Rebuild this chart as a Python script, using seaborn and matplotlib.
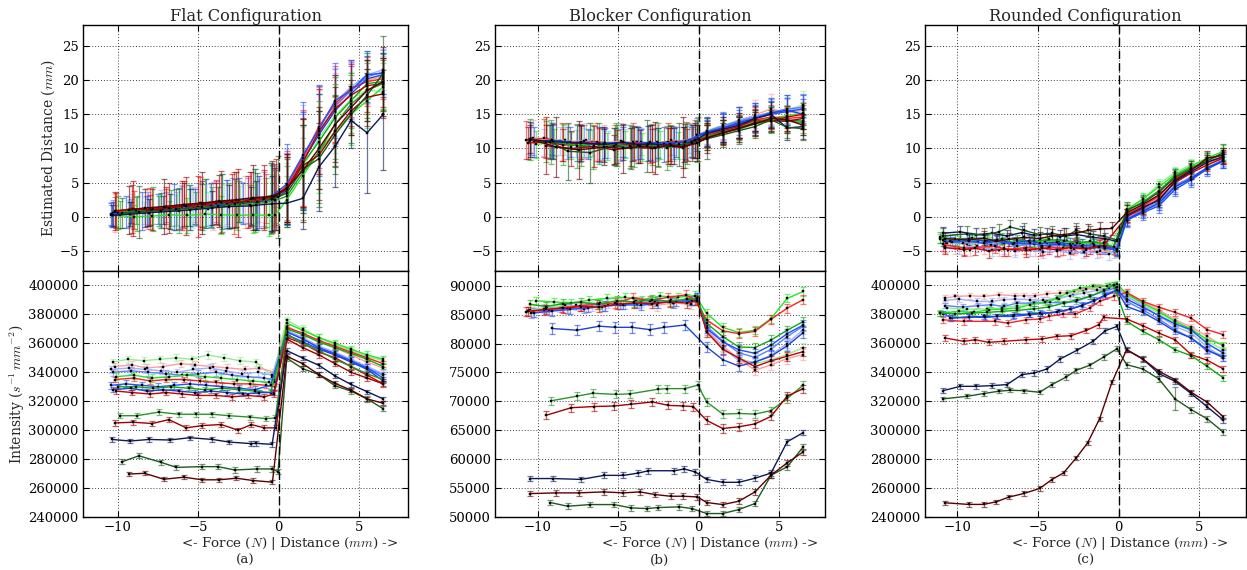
import numpy as np
import matplotlib
matplotlib.use("Agg")
import matplotlib.pyplot as plt
from matplotlib.ticker import MultipleLocator, ScalarFormatter
import seaborn as sns

# ---------------- data ----------------
COLORS = ['#90f090', '#ff9d9d', '#9fb0ff', '#5a82ff', '#22e622', '#ff2020', '#1f4fff',
          '#10a810', '#1a44d8', '#cc0000', '#2a962a', '#a00000', '#0b1a5c', '#1d5a1d', '#5e0000']
X_DIST = [0.5, 1.5, 2.5, 3.5, 4.5, 5.5, 6.5]
TITLES = ["Flat Configuration", "Blocker Configuration", "Rounded Configuration"]
PANEL_TAGS = ["(a)", "(b)", "(c)"]
XLABEL = "<- Force ($N$) | Distance ($mm$) ->"

# ---- (a) Flat ----
FLAT_COLOR_IDX = list(range(15))
FLAT_FX = [
    [-10.3, -9.4, -8.4, -7.4, -6.4, -5.4, -4.4, -3.4, -2.4, -1.4, -0.4],
    [-10.2, -9.1, -8.2, -7.2, -6.1, -5.2, -4.1, -3.2, -2.1, -1.2, -0.3],
    [-10.4, -9.3, -8.3, -7.3, -6.3, -5.3, -4.3, -3.3, -2.3, -1.3, -0.4],
    [-10.3, -9.2, -8.1, -7.0, -6.0, -5.0, -3.9, -2.9, -1.9, -0.9, -0.2],
    [-10.1, -9.0, -7.9, -6.8, -5.7, -4.6, -3.6, -2.6, -1.6, -0.6, -0.2],
    [-10.2, -9.0, -8.0, -7.0, -5.9, -4.9, -3.9, -2.8, -1.8, -0.8, -0.2],
    [-10.4, -9.5, -8.5, -7.5, -6.5, -5.5, -4.5, -3.5, -2.5, -1.5, -0.5],
    [-10.0, -8.9, -7.8, -6.7, -5.6, -4.6, -3.5, -2.5, -1.5, -0.5],
    [-10.3, -9.2, -8.2, -7.2, -6.2, -5.2, -4.2, -3.2, -2.2, -1.2, -0.3],
    [-10.1, -9.1, -8.0, -7.0, -6.0, -5.0, -3.9, -2.9, -1.9, -0.9, -0.3],
    [-9.85, -8.82, -7.45, -6.2, -5.17, -4.13, -3.09, -1.76, -0.81, -0.21],
    [-10.2, -9.07, -7.86, -6.83, -5.75, -4.75, -3.57, -2.53, -1.7, -0.91, -0.15],
    [-10.37, -9.23, -8.07, -6.78, -5.54, -4.13, -3.09, -1.7, -1.39, -0.41],
    [-9.73, -8.69, -7.3, -6.37, -4.75, -3.78, -2.74, -1.35, -0.39, -0.04],
    [-9.3, -8.34, -7.14, -5.9, -4.75, -3.71, -2.63, -1.6, -0.39],
]
FLAT_DIST = [
    [0.2, 0.5, 0.6, 0.9, 1.0, 1.3, 1.2, 1.6, 1.9, 2.1, 2.5, 3.4, 7.2, 11.5, 14.8, 17.2, 18.6, 18.2],
    [0.6, 0.8, 1.2, 1.0, 1.5, 1.8, 1.6, 2.0, 2.2, 2.4, 2.8, 4.0, 8.5, 12.5, 16.0, 18.5, 20.0, 20.5],
    [0.3, 0.7, 0.9, 1.1, 1.2, 1.4, 1.8, 2.0, 2.1, 2.3, 2.6, 4.4, 8.8, 13.0, 16.8, 19.0, 20.8, 21.5],
    [0.5, 0.8, 1.1, 1.4, 1.5, 1.8, 2.2, 2.1, 2.4, 2.6, 3.0, 4.2, 8.0, 12.2, 16.2, 18.5, 20.5, 21.2],
    [0.2, 0.0, 0.1, 0.3, 0.2, 0.4, 0.3, 0.2, 0.3, 0.2, 0.3, 2.5, 6.0, 9.5, 12.5, 15.0, 17.0, 19.0],
    [0.7, 1.0, 1.2, 1.5, 1.8, 2.0, 2.2, 2.0, 2.5, 2.7, 3.0, 4.6, 8.6, 13.2, 16.5, 18.8, 19.8, 20.2],
    [0.4, 0.7, 0.9, 1.2, 1.4, 1.7, 1.9, 2.2, 2.5, 2.6, 2.9, 4.8, 9.0, 12.8, 17.0, 18.5, 20.8, 21.0],
    [0.6, 0.9, 1.1, 1.3, 1.6, 1.9, 2.0, 2.3, 2.4, 2.7, 4.0, 7.8, 11.0, 14.5, 17.0, 19.5, 19.8],
    [0.3, 0.6, 0.8, 1.0, 1.2, 1.5, 1.7, 1.9, 2.0, 2.2, 2.6, 3.8, 8.2, 12.0, 15.5, 18.0, 20.2, 20.8],
    [0.9, 1.1, 1.0, 1.4, 1.6, 1.5, 2.0, 2.3, 2.2, 2.6, 2.9, 4.2, 8.0, 12.5, 15.8, 17.8, 19.2, 19.5],
    [0.3, 0.5, 0.8, 0.9, 1.2, 1.4, 1.6, 1.8, 2.1, 2.4, 3.0, 6.5, 9.5, 13.5, 16.5, 18.5, 19.5],
    [0.8, 1.2, 1.0, 1.3, 1.6, 1.9, 2.2, 2.0, 2.6, 2.8, 3.2, 4.0, 7.5, 9.0, 12.5, 15.5, 17.5, 18.0],
    [0.2, 0.4, 0.6, 0.8, 1.0, 1.3, 1.5, 1.6, 1.7, 1.9, 2.0, 2.7, 7.3, 10.3, 14.1, 12.3, 15.0],
    [0.5, 0.7, 0.9, 1.1, 1.4, 1.6, 1.9, 2.2, 2.6, 2.9, 3.5, 7.0, 8.5, 12.0, 15.0, 17.8, 21.0],
    [1.0, 1.3, 1.5, 1.8, 2.0, 2.3, 2.5, 2.8, 3.0, 4.2, 6.8, 10.0, 13.5, 16.0, 18.5, 19.8],
]
FLAT_DIST_ERR = [
    [1.5, 2.0, 1.6, 2.4, 2.2, 3.0, 2.5, 3.2, 2.6, 3.0, 3.8, 4.5, 6.0, 6.5, 5.5, 4.0, 4.2, 3.5],
    [2.8, 2.5, 3.0, 2.0, 3.2, 2.5, 3.5, 3.0, 3.8, 3.2, 4.0, 5.0, 7.0, 6.0, 5.0, 4.0, 3.5, 3.0],
    [1.8, 2.2, 2.0, 2.8, 2.5, 2.8, 3.0, 3.4, 3.0, 3.6, 3.2, 5.5, 7.5, 6.2, 5.0, 3.8, 3.2, 3.0],
    [2.0, 1.8, 2.5, 2.2, 3.0, 3.2, 3.0, 3.6, 3.3, 4.0, 4.5, 5.2, 7.0, 6.8, 5.5, 4.2, 3.8, 3.2],
    [1.5, 1.8, 1.2, 2.0, 2.5, 1.8, 2.8, 2.2, 2.6, 3.0, 1.2, 3.5, 5.5, 6.0, 5.0, 4.5, 4.0, 3.5],
    [2.2, 2.8, 3.0, 2.5, 3.5, 3.8, 3.2, 4.5, 4.0, 3.6, 4.2, 5.0, 7.0, 6.0, 5.5, 4.2, 3.6, 3.0],
    [1.6, 2.4, 2.8, 2.2, 3.4, 3.0, 3.6, 4.0, 3.2, 4.4, 5.0, 5.8, 7.8, 6.5, 5.5, 4.5, 3.5, 3.0],
    [2.4, 2.0, 3.2, 2.6, 3.0, 3.6, 4.2, 3.0, 4.6, 5.2, 4.8, 6.5, 7.0, 6.0, 4.0, 4.5, 4.0],
    [1.8, 1.5, 2.2, 2.0, 3.0, 2.6, 3.2, 3.5, 3.0, 3.8, 4.6, 5.0, 7.2, 6.0, 5.2, 4.0, 3.4, 3.2],
    [2.6, 3.5, 2.2, 3.0, 3.6, 4.5, 3.0, 4.0, 3.8, 4.2, 4.8, 5.0, 6.5, 6.2, 5.0, 4.5, 3.8, 3.5],
    [2.0, 2.6, 2.2, 3.2, 2.4, 3.0, 3.4, 2.8, 3.6, 4.4, 4.5, 7.0, 7.5, 6.0, 4.2, 4.0, 3.8],
    [2.8, 4.0, 3.0, 3.6, 4.2, 3.4, 4.5, 5.0, 4.0, 4.8, 5.2, 4.8, 6.0, 6.5, 5.2, 3.6, 4.2, 3.5],
    [1.5, 1.8, 2.0, 2.6, 3.0, 2.5, 3.2, 2.8, 3.6, 4.0, 3.0, 4.5, 6.5, 6.0, 4.0, 8.8, 8.2],
    [2.2, 3.8, 2.6, 3.0, 3.4, 2.8, 3.6, 4.2, 5.0, 6.0, 5.0, 6.5, 7.0, 5.8, 4.2, 3.8, 5.5],
    [3.5, 2.8, 4.0, 3.2, 4.5, 3.8, 4.0, 4.8, 5.2, 5.0, 7.5, 6.0, 5.5, 4.0, 4.5, 5.0],
]
# intensity in thousands of s^-1 mm^-2
FLAT_INT = [
    [347, 349, 348, 349, 350, 349, 352, 350, 348, 347, 337, 376, 370, 364, 359, 355, 351, 348],
    [344, 345, 343, 344, 346, 345, 344, 343, 342, 343, 340, 372, 366, 361, 357, 352, 347, 343],
    [342, 343, 342, 341, 340, 342, 343, 341, 339, 340, 338, 369, 364, 358, 354, 349, 344, 339],
    [340, 341, 340, 339, 338, 339, 340, 338, 337, 336, 335, 368, 363, 357, 352, 348, 343, 338],
    [337, 338, 336, 337, 338, 337, 336, 335, 334, 333, 333, 374, 369, 364, 360, 356, 352, 349],
    [335, 336, 334, 335, 335, 334, 333, 332, 332, 331, 330, 371, 367, 362, 358, 354, 350, 346],
    [331, 332, 331, 330, 331, 332, 331, 330, 329, 328, 331, 368, 363, 357, 353, 348, 343, 336],
    [330, 330, 329, 330, 329, 328, 329, 328, 327, 326, 370, 366, 361, 357, 353, 349, 344],
    [328, 329, 327, 328, 327, 326, 327, 326, 325, 326, 326, 366, 361, 356, 352, 347, 342, 334],
    [327, 326, 325, 326, 325, 324, 324, 323, 324, 323, 325, 364, 360, 354, 350, 344, 338, 332],
    [310, 310, 312.5, 311, 311, 311, 310, 309, 308, 308.4, 366, 360, 355, 349, 344, 339, 335],
    [305, 305.5, 304.6, 307.3, 301.6, 303.2, 303.9, 300, 303.9, 301.6, 301.6,
     363, 357, 352, 346, 340, 336, 332],
    [293.6, 292.5, 293.6, 293.2, 294.8, 293.6, 291.8, 290.7, 290.9, 290.2,
     355, 349.8, 344.8, 337.5, 331.6, 326.6, 321.6],
    [278.2, 282.3, 277.7, 274.3, 274.8, 274.8, 272.5, 273.2, 273.2, 271.3,
     349.8, 342.5, 338.4, 330.7, 327, 321.6, 314.8],
    [269.7, 270.2, 266.1, 267.5, 265.7, 265.7, 266.8, 265.2, 264.1,
     351.1, 345.9, 338.4, 332.3, 327.7, 321.6, 318.6],
]
FLAT_INT_ERR = [2.5, 2.5, 2.5, 2.5, 2.5, 2.0, 2.5, 1.5, 1.5, 2.0, 1.8, 1.8, 1.5, 1.8, 1.5]

# ---- (b) Blocker ----
BLOCK_COLOR_IDX = list(range(15))
BLOCK_FX = [
    [-10.5, -9.4, -8.3, -7.2, -6.1, -5.0, -3.9, -2.8, -1.7, -0.6, -0.1],
    [-10.3, -9.2, -8.1, -7.0, -5.9, -4.8, -3.7, -2.6, -1.5, -0.5, -0.1],
    [-10.6, -9.6, -8.6, -7.6, -6.6, -5.6, -4.6, -3.6, -2.6, -1.6, -0.6, -0.1],
    [-10.4, -9.3, -8.2, -7.1, -6.0, -4.9, -3.8, -2.7, -1.6, -0.5, -0.1],
    [-10.1, -9.0, -7.9, -6.8, -5.7, -4.6, -3.5, -2.4, -1.3, -0.2],
    [-10.7, -9.6, -8.5, -7.4, -6.3, -5.2, -4.1, -3.0, -1.9, -0.8, -0.2],
    [-10.2, -9.1, -8.0, -6.9, -5.8, -4.7, -3.6, -2.5, -1.4, -0.4, -0.1],
    [-10.5, -9.5, -8.4, -7.3, -6.2, -5.1, -4.0, -2.9, -1.8, -0.7, -0.1],
    [-9.11, -7.56, -6.16, -5.19, -4.15, -3.02, -2.15, -0.85],
    [-10.6, -9.5, -8.4, -7.3, -6.2, -5.1, -4.0, -2.9, -1.8, -0.7, -0.1],
    [-9.15, -7.56, -6.57, -5.12, -4.26, -2.5, -1.98, -0.85, -0.05],
    [-9.46, -7.91, -6.53, -5.25, -4.19, -2.87, -1.88, -0.99, -0.33],
    [-10.45, -9.05, -7.31, -5.87, -4.67, -3.74, -3.12, -1.51, -0.89, -0.21],
    [-9.21, -8.14, -6.74, -5.25, -4.19, -3.22, -2.5, -1.2, -0.41],
    [-10.45, -8.84, -7.46, -5.87, -4.67, -3.64, -2.71, -1.74, -0.99, -0.08],
]
BLOCK_DIST = [
    [11.0, 11.4, 11.2, 10.8, 10.6, 10.9, 11.0, 10.7, 11.2, 11.0, 11.6, 12.6, 13.4, 14.0, 14.6, 15.4, 15.6, 16.4],
    [11.6, 11.3, 11.0, 11.2, 10.8, 11.1, 10.6, 10.9, 10.7, 11.2, 11.8, 12.2, 13.0, 13.8, 14.9, 15.8, 15.2, 15.6],
    [11.2, 10.9, 11.1, 10.7, 10.9, 10.6, 10.8, 11.0, 10.7, 11.0, 11.3, 11.9, 12.4, 13.2, 14.2, 14.8, 15.2, 15.4, 16.2],
    [11.4, 11.0, 10.8, 11.1, 10.7, 10.5, 10.9, 10.6, 10.8, 11.2, 12.0, 12.5, 13.3, 14.0, 14.6, 15.3, 15.8, 16.0],
    [10.6, 10.9, 10.4, 10.7, 10.3, 10.6, 10.2, 10.5, 10.4, 10.8, 11.8, 12.6, 13.2, 14.0, 14.4, 14.8, 15.2],
    [11.2, 11.5, 11.0, 10.8, 11.0, 10.6, 10.9, 10.7, 11.0, 11.1, 11.4, 12.0, 12.8, 13.4, 14.2, 14.6, 14.4, 14.6],
    [11.0, 11.2, 10.9, 10.7, 10.8, 10.9, 10.6, 10.8, 10.9, 11.0, 11.8, 12.2, 13.0, 13.6, 14.4, 15.0, 15.4, 15.8],
    [11.3, 11.0, 10.6, 10.4, 10.7, 10.5, 10.3, 10.6, 10.4, 10.7, 11.0, 11.6, 12.4, 12.8, 13.6, 14.0, 14.0, 13.8],
    [11.2, 10.8, 10.6, 10.4, 10.7, 10.9, 10.6, 11.0, 12.4, 13.0, 13.8, 14.4, 15.2, 15.6, 15.0],
    [10.8, 11.0, 10.5, 10.9, 10.6, 10.3, 10.7, 10.4, 10.6, 10.5, 11.0, 11.8, 12.6, 13.2, 14.2, 14.0, 14.6, 15.0],
    [11.0, 10.4, 10.2, 10.6, 10.3, 10.5, 10.1, 10.4, 11.4, 11.8, 12.4, 13.0, 13.8, 14.4, 14.2, 14.0],
    [10.4, 10.0, 10.3, 9.8, 10.2, 10.0, 10.4, 10.1, 11.0, 11.6, 12.2, 12.9, 13.8, 14.1, 14.0, 14.4],
    [11.3, 11.0, 10.8, 10.6, 10.9, 10.5, 10.7, 10.4, 10.6, 11.2, 12.2, 12.8, 13.4, 14.4, 15.0, 13.0, 13.2],
    [11.0, 9.6, 9.4, 10.4, 10.0, 10.4, 10.2, 10.6, 10.8, 11.4, 12.0, 12.6, 13.2, 14.2, 13.1, 12.9],
    [11.4, 10.2, 9.8, 10.2, 10.0, 10.3, 10.1, 10.5, 10.2, 10.8, 11.5, 12.3, 13.0, 13.6, 14.4, 14.2, 13.4],
]
# (force-side error, distance-side error) or one value per point
BLOCK_DIST_ERR = [
    (2.2, 2.0), (2.6, 2.2), (2.0, 1.8), (2.4, 2.0), (2.0, 1.6), (2.8, 1.8), (2.2, 2.0),
    (3.0, 1.8), (2.6, 2.2), (2.4, 1.6), (3.2, 1.8),
    [4.2, 2.5, 3.0, 2.2, 2.8, 3.4, 2.6, 3.0, 2.4, 1.8, 1.6, 2.0, 1.8, 1.6, 1.8, 1.5],
    (2.6, 1.8),
    [2.5, 4.2, 4.4, 2.6, 3.0, 3.8, 2.8, 3.2, 2.6, 3.0, 1.8, 2.0, 1.6, 1.8, 1.6, 1.7],
    [2.0, 4.4, 4.2, 2.6, 3.6, 2.4, 3.8, 2.8, 4.4, 2.6, 2.2, 1.8, 1.6, 1.8, 1.4, 1.6, 1.5],
]
BLOCK_INT = [
    [85.8, 86.3, 86.6, 86.4, 87.0, 86.8, 87.3, 87.0, 87.6, 87.3, 87.8, 82.0, 79.0, 77.5, 76.5, 77.2, 78.1, 79.3],
    [85.4, 85.8, 86.0, 86.3, 86.5, 86.9, 87.1, 86.6, 87.0, 86.8, 87.6, 82.4, 79.6, 77.3, 75.4, 76.3, 77.4, 78.1],
    [85.6, 86.0, 86.2, 86.6, 86.4, 86.9, 86.7, 87.2, 87.4, 87.1, 87.5, 87.9, 82.2, 79.3, 77.0, 76.8, 78.0, 80.0, 82.4],
    [85.2, 85.7, 86.1, 86.0, 86.4, 86.7, 86.9, 87.3, 87.0, 87.5, 88.0, 83.0, 80.4, 78.4, 77.6, 79.0, 81.2, 83.0],
    [87.4, 87.2, 87.0, 87.5, 87.8, 88.0, 87.6, 88.2, 88.0, 88.3, 85.2, 82.8, 81.9, 82.3, 84.3, 87.8, 89.0],
    [85.5, 85.8, 86.2, 86.5, 86.8, 87.0, 87.9, 87.4, 88.0, 88.4, 87.5, 84.1, 82.2, 81.7, 82.1, 84.2, 86.1, 87.6],
    [85.3, 85.6, 85.9, 86.2, 86.5, 86.7, 86.6, 87.0, 87.3, 87.4, 87.9, 82.6, 80.3, 78.9, 78.3, 79.7, 81.7, 83.2],
    [86.8, 86.4, 86.9, 87.1, 86.8, 87.4, 87.2, 87.6, 87.3, 87.7, 87.6, 83.5, 81.2, 79.4, 79.3, 80.6, 82.3, 83.8],
    [82.6, 82.3, 83.0, 82.8, 82.8, 82.4, 82.8, 83.2, 79.4, 77.2, 76.1, 76.8, 77.8, 79.6, 81.9],
    [85.6, 85.9, 86.1, 86.4, 86.3, 86.8, 87.0, 86.9, 87.2, 87.0, 87.4, 82.0, 79.0, 77.5, 76.0, 77.0, 77.8, 78.6],
    [70.1, 70.9, 71.4, 71.2, 71.3, 72.1, 72.2, 72.2, 72.8, 69.9, 67.8, 67.9, 67.8, 68.4, 70.5, 72.8],
    [67.6, 68.9, 69.1, 69.2, 69.5, 69.9, 69.3, 69.2, 69.1, 66.7, 65.3, 65.6, 66.1, 67.4, 70.9, 72.2],
    [56.65, 56.65, 56.5, 57.2, 57.2, 57.6, 58.0, 58.0, 58.3, 57.8, 56.5, 56.0, 56.0, 56.7, 57.6, 63.0, 64.6],
    [52.5, 51.86, 52.15, 52.15, 51.57, 51.46, 51.63, 51.75, 51.46, 50.6, 50.6, 51.29, 52.33, 57.23, 58.67, 62.13],
    [54.05, 54.17, 54.17, 54.34, 54.17, 54.34, 53.88, 53.59, 53.59, 53.48, 52.5, 52.15, 52.73, 54.34, 57.23, 59.36, 61.27],
]
BLOCK_INT_ERR = [0.8, 0.9, 0.8, 0.8, 0.7, 0.8, 0.8, 0.8, 0.9, 0.8, 0.7, 0.7, 0.5, 0.5, 0.5]

# ---- (c) Rounded ----
ROUND_COLOR_IDX = [0, 1, 2, 3, 4, 5, 6, 7, 8, 9, 12, 13, 14]
ROUND_FX = [
    [-10.64, -9.4, -8.16, -7.23, -6.3, -5.27, -4.44, -3.72, -2.83, -2.21, -1.34, -0.52],
    [-10.74, -10.12, -9.19, -8.37, -7.44, -6.4, -5.85, -5.17, -4.44, -3.66, -2.79, -2.0, -1.18, -0.31],
    [-10.74, -9.92, -8.78, -7.85, -7.13, -6.4, -5.47, -4.69, -3.82, -3.0, -2.17, -1.34, -0.62, -0.1],
    [-10.74, -9.65, -8.74, -7.91, -7.13, -6.3, -5.27, -4.28, -3.37, -2.62, -1.8, -0.93, -0.21],
    [-11.05, -9.92, -8.99, -8.06, -7.23, -6.3, -5.48, -4.55, -3.82, -3.2, -2.38, -1.59, -0.72, -0.1],
    [-10.89, -9.61, -7.64, -6.88, -5.72, -4.86, -4.34, -3.45, -2.69, -1.8, -1.18, -0.31],
    [-10.89, -10.33, -9.3, -8.37, -7.54, -6.55, -5.48, -4.75, -3.72, -2.95, -2.21, -1.55, -0.83, -0.1],
    [-11.05, -10.12, -9.09, -8.16, -7.23, -6.3, -5.27, -4.34, -3.41, -2.58, -1.76, -0.93, -0.31],
    [-10.43, -9.3, -8.26, -7.54, -6.51, -5.58, -4.86, -3.82, -3.0, -2.27, -1.55, -0.83, -0.1],
    [-10.74, -9.61, -8.88, -8.06, -7.13, -5.72, -4.75, -3.82, -2.95, -2.0, -1.24, -0.93],
    [-10.89, -9.81, -8.82, -7.85, -6.92, -5.99, -5.23, -4.44, -3.62, -2.58, -1.59, -0.83, -0.1],
    [-10.89, -9.4, -8.37, -7.44, -6.71, -5.85, -4.9, -4.13, -3.24, -2.62, -1.8, -0.93, -0.1],
    [-10.74, -9.3, -8.37, -7.58, -6.82, -5.85, -4.9, -4.13, -3.41, -2.62, -1.92, -1.18, -0.41],
]
ROUND_DIST = [
    [-3.8, -4.0, -3.6, -3.9, -3.7, -3.5, -3.8, -3.6, -3.9, -4.1, -4.3, -4.6, 1.2, 2.5, 4.8, 6.5, 7.6, 8.4, 9.2],
    [-4.4, -4.6, -4.8, -4.5, -4.9, -4.7, -4.5, -4.8, -4.6, -4.9, -4.7, -4.8, -5.0, -5.1, 0.2, 1.4, 2.8, 5.2, 6.6, 7.8, 8.6],
    [-4.2, -4.5, -4.3, -4.8, -4.6, -5.0, -4.8, -5.2, -5.0, -5.3, -5.1, -5.2, -5.4, -5.0, -0.6, 0.8, 1.8, 4.2, 5.6, 7.0, 8.1],
    [-3.6, -3.9, -3.7, -4.1, -3.8, -4.2, -4.0, -4.3, -4.1, -4.4, -4.6, -4.5, -4.8, -0.3, 1.0, 2.2, 4.6, 5.8, 7.2, 8.4],
    [-3.2, -3.5, -3.3, -3.6, -3.4, -3.8, -3.5, -3.7, -3.4, -3.6, -3.9, -3.8, -4.2, -5.0, 1.0, 2.6, 4.4, 6.2, 7.4, 8.6, 9.6],
    [-4.0, -4.6, -4.3, -4.8, -4.5, -4.7, -4.4, -4.6, -4.3, -4.5, -4.2, -4.4, 0.4, 1.6, 3.0, 5.6, 7.0, 8.0, 8.8],
    [-3.4, -3.7, -3.5, -3.9, -3.6, -4.0, -3.8, -4.2, -4.0, -4.3, -4.5, -4.4, -4.6, -4.9, -0.5, 0.6, 1.6, 4.0, 5.4, 7.0, 8.2],
    [-3.0, -3.3, -3.1, -3.5, -3.2, -3.4, -3.6, -3.3, -3.5, -3.8, -3.6, -3.9, -4.4, 0.8, 2.2, 3.8, 6.0, 7.2, 8.2, 9.2],
    [-3.5, -3.2, -3.6, -3.4, -3.8, -3.5, -3.9, -3.7, -4.0, -4.2, -4.1, -4.4, -4.7, -0.4, 0.8, 2.0, 4.4, 5.6, 7.2, 8.2],
    [-4.5, -4.8, -4.6, -5.0, -4.7, -4.9, -4.6, -4.8, -4.5, -4.7, -4.4, -4.2, 0.0, 1.2, 2.6, 5.0, 6.4, 7.6, 8.6],
    [-2.4, -2.2, -2.6, -2.4, -2.8, -2.3, -2.7, -2.5, -2.9, -2.6, -3.0, -3.2, -3.6, 0.2, 1.4, 2.4, 5.2, 6.6, 8.0, 8.8],
    [-2.8, -2.5, -2.7, -2.2, -1.5, -2.0, -2.6, -2.4, -2.8, -2.0, -2.5, -2.8, -3.4, 1.0, 2.0, 3.6, 5.8, 7.0, 8.2, 9.4],
    [-3.2, -3.4, -3.1, -3.6, -3.3, -3.0, -3.2, -2.8, -2.6, -2.4, -2.0, -1.8, -1.7, 0.6, 1.8, 3.2, 5.4, 6.8, 8.6, 9.0],
]
ROUND_DIST_ERR = [(0.8, 0.8), (0.9, 0.9), (0.9, 0.8), (0.8, 0.9), (0.7, 0.9), (1.0, 0.8), (0.8, 1.0),
                  (0.8, 0.9), (0.9, 1.0), (1.0, 0.9), (0.9, 1.0), (1.1, 1.2), (1.0, 1.1)]
ROUND_INT = [
    [384.4, 383.7, 383.7, 384.4, 386.0, 387.8, 389.0, 390.6, 393.6, 396.6, 398.9, 400.5,
     393.6, 386.7, 380.9, 374.0, 368.3, 361.4, 355.6],
    [391.3, 392.4, 392.9, 392.4, 393.6, 392.9, 392.9, 392.9, 394.3, 394.7, 395.9, 397.5, 398.9, 399.8,
     394.7, 388.3, 383.2, 376.3, 371.3, 364.8, 357.9],
    [389.7, 390.6, 389.0, 389.0, 390.1, 390.6, 390.1, 389.7, 391.3, 392.9, 394.7, 396.6, 398.2, 398.9,
     392.4, 386.0, 379.1, 371.7, 367.1, 357.5, 349.9],
    [386.0, 385.1, 386.0, 386.7, 385.5, 387.8, 387.8, 388.3, 387.8, 389.0, 392.4, 395.9, 398.2,
     389.0, 383.2, 376.8, 369.4, 363.7, 354.5, 351.5],
    [380.9, 382.1, 381.4, 383.2, 383.7, 384.4, 386.7, 388.3, 391.3, 394.7, 398.2, 399.3, 399.8, 401.1,
     394.2, 387.8, 382.1, 375.2, 369.9, 362.5, 359.1],
    [376.3, 375.2, 375.2, 374.0, 376.3, 376.8, 378.6, 380.2, 380.2, 384.4, 389.0, 392.4,
     395.2, 389.0, 385.0, 381.4, 377.5, 369.4, 366.0],
    [380.5, 377.5, 378.2, 378.6, 378.6, 378.6, 379.8, 380.5, 382.1, 383.7, 386.7, 389.0, 393.6, 397.0,
     390.6, 385.0, 379.1, 373.5, 369.4, 359.8, 353.3],
    [380.9, 380.5, 380.9, 381.4, 382.1, 382.8, 383.7, 385.1, 387.8, 390.1, 392.4, 396.6, 400.5,
     375.2, 368.3, 362.5, 355.6, 351.5, 344.1, 336.1],
    [377.5, 378.2, 377.9, 378.6, 379.8, 380.2, 380.9, 381.4, 383.7, 386.0, 389.7, 392.9, 396.6,
     385.5, 381.4, 375.2, 368.3, 363.7, 355.6, 349.9],
    [363.7, 361.4, 362.5, 360.7, 361.4, 362.5, 363.0, 364.8, 365.3, 368.9, 372.9, 377.9,
     376.8, 372.2, 367.1, 362.5, 352.2, 348.3, 342.3],
    [327.3, 330.3, 330.3, 330.8, 331.5, 338.4, 339.5, 342.3, 349.2, 355.2, 361.4, 368.7, 371.7,
     355.6, 349.2, 339.1, 333.8, 325.3, 316.1, 306.9],
    [321.6, 323.4, 325.3, 326.9, 327.6, 327.3, 326.2, 331.5, 336.8, 341.4, 344.8, 350.5, 356.3,
     345.3, 342.3, 335.4, 321.6, 314.2, 307.8, 298.6],
    [249.8, 248.7, 248.7, 250.5, 253.7, 256.3, 259.7, 265.9, 270.5, 280.9, 291.2, 307.8, 333.1,
     355.6, 349.2, 340.7, 334.9, 326.2, 319.3, 309.2],
]
ROUND_INT_ERR = [1.8, 2.0, 2.0, 1.8, 2.0, 2.2, 1.8, 1.8, 2.0, 2.0, 1.8,
                 [1.5, 1.5, 1.5, 1.5, 1.5, 1.5, 1.5, 1.8, 1.8, 1.8, 1.8, 1.8, 1.8,
                  2.0, 2.0, 2.0, 8.0, 2.0, 2.0, 2.0],
                 1.5]

# ---------------- style ----------------
sns.set_style("ticks")
plt.rcParams["font.family"] = ["DejaVu Serif"]
plt.rcParams["mathtext.fontset"] = "cm"
plt.rcParams["axes.unicode_minus"] = True

W, H = 1247, 570
fig = plt.figure(figsize=(W / 100, H / 100), dpi=100)
fig.patch.set_facecolor("white")

COL_PX = [(83, 408), (495, 825), (925, 1246)]
XLIMS = [(-12.17, 8.04), (-12.65, 7.85), (-12.0, 7.9)]
ROW_PX = [(25, 271), (271, 517)]
INT_LIMS = [(240000, 410000), (50000, 92540), (240000, 410000)]
INT_STEP = [20000, 5000, 20000]
XLABEL_CX = [290, 710, 1120]


def rect(cx, ry):
    x0, x1 = cx
    y0, y1 = ry
    return [x0 / W, 1 - y1 / H, (x1 - x0) / W, (y1 - y0) / H]


def expand(err, nleft, ntot):
    if np.ndim(err) == 0:
        return np.full(ntot, float(err))
    if isinstance(err, tuple):
        return np.r_[np.full(nleft, err[0]), np.full(ntot - nleft, err[1])]
    return np.asarray(err, dtype=float)


def style_ax(ax):
    ax.set_facecolor("white")
    for s in ax.spines.values():
        s.set_visible(True)
        s.set_color("black")
        s.set_linewidth(1.0)
    ax.tick_params(direction="in", top=True, right=True, length=4, width=0.8,
                   labelsize=9.5, colors="black", pad=3)
    ax.grid(True, color="black", linestyle=(0, (1, 2)), linewidth=0.7, alpha=0.75)
    ax.set_axisbelow(True)


def draw_series(ax, x, y, e, c):
    ax.errorbar(x, y, yerr=e, fmt="none", ecolor=c, elinewidth=0.9, capsize=2.5,
                capthick=0.9, alpha=0.6, zorder=2)
    sns.lineplot(x=x, y=y, ax=ax, color=c, lw=1.0, marker="s", markersize=2.0,
                 markerfacecolor="black", markeredgecolor="black", markeredgewidth=0.3,
                 sort=False, errorbar=None, zorder=3)


PANELS = [
    (FLAT_COLOR_IDX, FLAT_FX, FLAT_DIST, FLAT_DIST_ERR, FLAT_INT, FLAT_INT_ERR),
    (BLOCK_COLOR_IDX, BLOCK_FX, BLOCK_DIST, BLOCK_DIST_ERR, BLOCK_INT, BLOCK_INT_ERR),
    (ROUND_COLOR_IDX, ROUND_FX, ROUND_DIST, ROUND_DIST_ERR, ROUND_INT, ROUND_INT_ERR),
]

for j, (cidx, fx, dist, derr, inten, ierr) in enumerate(PANELS):
    ax_t = fig.add_axes(rect(COL_PX[j], ROW_PX[0]))
    ax_b = fig.add_axes(rect(COL_PX[j], ROW_PX[1]))
    for ax in (ax_t, ax_b):
        style_ax(ax)
    for k, ci in enumerate(cidx):
        c = COLORS[ci]
        x = np.r_[np.asarray(fx[k], float), np.asarray(X_DIST, float)]
        nl = len(fx[k])
        yd = np.asarray(dist[k], float)
        yi = np.asarray(inten[k], float) * 1000.0
        draw_series(ax_t, x, yd, expand(derr[k], nl, len(x)), c)
        draw_series(ax_b, x, yi, expand(ierr[k], nl, len(x)) * 1000.0, c)

    for ax in (ax_t, ax_b):
        ax.axvline(0, color="black", lw=1.0, linestyle=(0, (6, 3)), zorder=4)
        ax.set_xlim(*XLIMS[j])
        ax.xaxis.set_major_locator(MultipleLocator(5))
        ax.set_xlabel("")
        ax.set_ylabel("")
    ax_t.set_ylim(-7.93, 28.07)
    ax_t.yaxis.set_major_locator(MultipleLocator(5))
    ax_t.tick_params(labelbottom=False)
    ax_b.set_ylim(*INT_LIMS[j])
    ax_b.yaxis.set_major_locator(MultipleLocator(INT_STEP[j]))
    fmt = ScalarFormatter(useOffset=False)
    fmt.set_scientific(False)
    ax_b.yaxis.set_major_formatter(fmt)
    ax_t.set_title(TITLES[j], fontsize=11.7, pad=3)
    if j == 0:
        ax_t.set_ylabel("Estimated Distance ($mm$)", fontsize=10, labelpad=2)
        ax_b.set_ylabel("Intensity ($s^{-1}\\,mm^{-2}$)", fontsize=10, labelpad=2)
    fig.text(XLABEL_CX[j] / W, 1 - 543 / H, XLABEL, ha="center", va="center", fontsize=9.7)
    cx = (COL_PX[j][0] + COL_PX[j][1]) / 2
    fig.text(cx / W, 1 - 560 / H, PANEL_TAGS[j], ha="center", va="center", fontsize=9.7)

fig.savefig("out.png", dpi=100, facecolor="white")
